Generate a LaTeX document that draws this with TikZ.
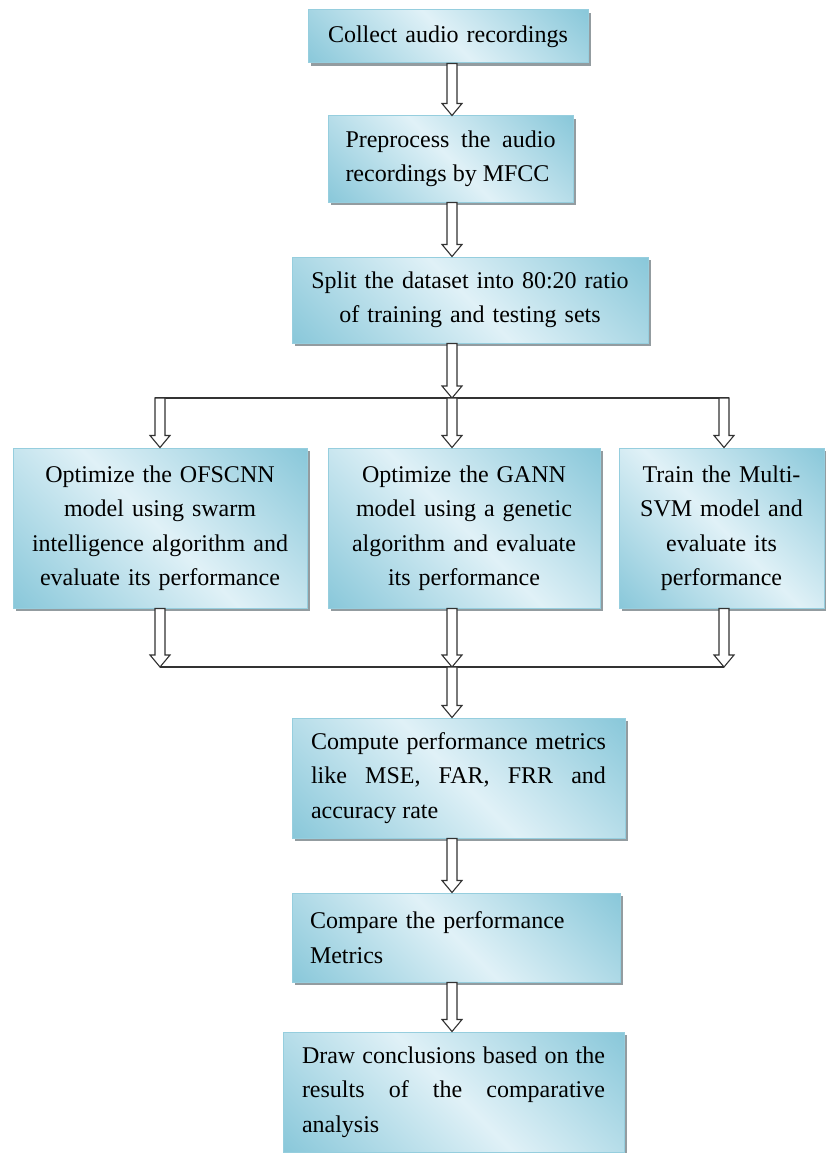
\documentclass[tikz,border=0pt]{standalone}
\usepackage{fontspec}
\setmainfont{Liberation Serif}
\usetikzlibrary{calc,shadows}
\definecolor{bdark}{RGB}{138,200,218}
\definecolor{blight}{RGB}{224,241,247}
\definecolor{bborder}{RGB}{150,206,222}
\definecolor{shadowc}{RGB}{135,145,150}
\definecolor{arrc}{RGB}{50,50,50}
\pgfdeclarehorizontalshading{boxshade}{100bp}{color(0bp)=(bdark); color(15bp)=(bdark); color(50bp)=(blight); color(85bp)=(bdark); color(100bp)=(bdark)}
\newcommand\barrow[2]{\draw[harrow] let \p1=(#1), \p2=(#2) in
  (\x1-5pt,\y1) -- (\x1-5pt,\y2+12pt) -- (\x1-10pt,\y2+12pt) -- (\x1,\y2)
  -- (\x1+10pt,\y2+12pt) -- (\x1+5pt,\y2+12pt) -- (\x1+5pt,\y1) -- cycle;}
\tikzset{
  fbox/.style={rectangle, shade, shading=boxshade, shading angle=45,
    draw=bborder, line width=1pt, inner ysep=0pt,
    drop shadow={shadow xshift=3pt, shadow yshift=-3pt, fill=shadowc, opacity=0.9},
    font=\fontsize{24}{34.5}\selectfont},
  harrow/.style={draw=arrc, fill=white, line width=1.1pt, line join=miter},
  bus/.style={draw=arrc, line width=1.6pt}
}
\begin{document}
\begin{tikzpicture}[x=1pt,y=-1pt]
\useasboundingbox (0,0) rectangle (826,1153);
\coordinate (col) at (452,0);
\coordinate (t1) at (160,398);
\coordinate (t2) at (452,398);
\coordinate (t3) at (724,398);
\coordinate (u1) at (160,667);
\coordinate (u2) at (452,667);
\coordinate (u3) at (724,667);

\node[fbox, text width=260pt, inner xsep=10pt, minimum height=53pt, align=center] (b1) at (448,36.5) {Collect audio recordings};
\node[fbox, text width=210pt, inner xsep=17.5pt, minimum height=86pt, align=justify] (b2) at (450.5,159) {Preprocess the audio\linebreak recordings by MFCC};
\node[fbox, text width=320pt, inner xsep=18pt, minimum height=86pt, align=center] (b3) at (470,300) {Split the dataset into 80:20 ratio\\of training and testing sets};
\node[fbox, text width=270pt, inner xsep=12pt, minimum height=160pt, align=center] (b4) at (160,528) {Optimize the OFSCNN\\model using swarm\\intelligence algorithm and\\evaluate its performance};
\node[fbox, text width=256pt, inner xsep=8pt, minimum height=160pt, align=center] (b5) at (464,528) {Optimize the GANN\\model using a genetic\\algorithm and evaluate\\its performance};
\node[fbox, text width=185pt, inner xsep=10pt, minimum height=160pt, align=center] (b6) at (721.5,528) {Train the Multi-\\SVM model and\\evaluate its\\performance};
\node[fbox, text width=295pt, inner xsep=19pt, minimum height=120pt, align=justify] (b7) at (458.5,778) {Compute performance metrics\linebreak like MSE, FAR, FRR and\linebreak accuracy rate};
\node[fbox, text width=292pt, inner xsep=18pt, minimum height=89pt, align=left] (b8) at (456,937.5) {Compare the performance\\Metrics};
\node[fbox, text width=303pt, inner xsep=19pt, minimum height=120pt, align=justify] (b9) at (453.5,1092) {Draw conclusions based on the\linebreak results of the comparative\linebreak analysis};

\draw[bus] ([xshift=-5pt]t1) -- ([xshift=5pt]t3);
\draw[bus] (u1) -- (u3);

\barrow{col |- b1.south}{col |- b2.north}
\barrow{col |- b2.south}{col |- b3.north}
\barrow{col |- b3.south}{t2}
\barrow{t1}{t1 |- b4.north}
\barrow{t2}{t2 |- b5.north}
\barrow{t3}{t3 |- b6.north}
\barrow{t1 |- b4.south}{u1}
\barrow{t2 |- b5.south}{u2}
\barrow{t3 |- b6.south}{u3}
\barrow{u2}{col |- b7.north}
\barrow{col |- b7.south}{col |- b8.north}
\barrow{col |- b8.south}{col |- b9.north}
\end{tikzpicture}
\end{document}
